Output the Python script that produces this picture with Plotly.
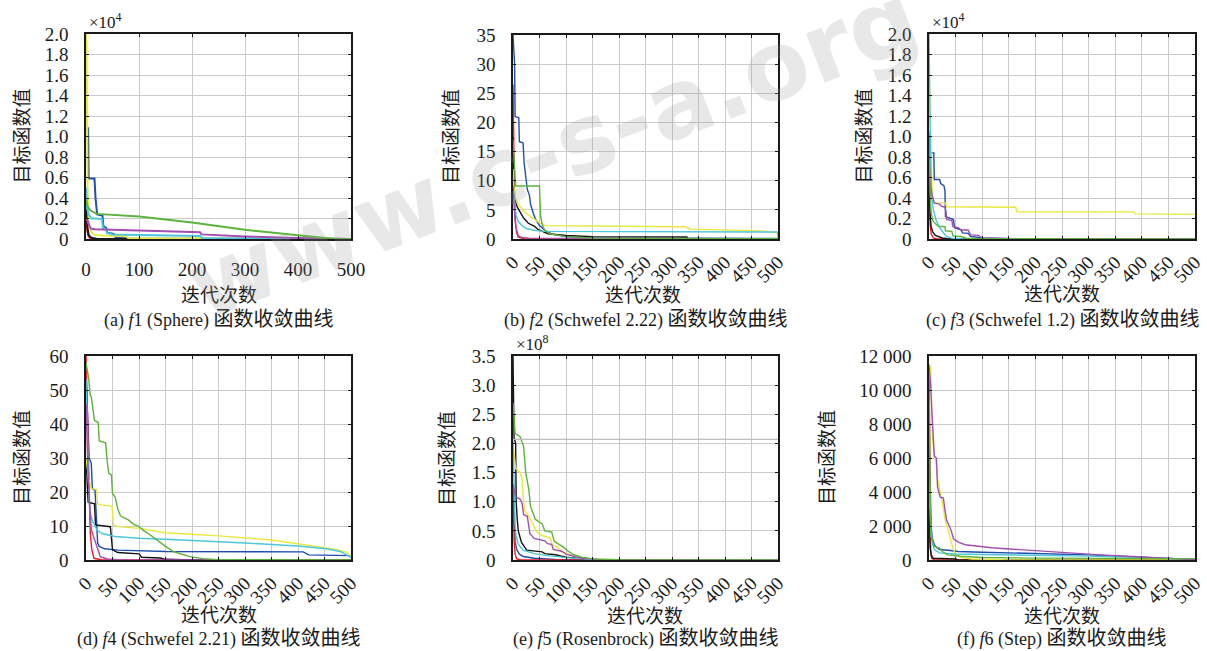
import plotly.graph_objects as go

# ---------------- data (iteration, objective value) ----------------
# (a) f1 Sphere
f1_blue = [(0, 10800), (4, 10800), (5, 5900), (16, 5900), (18, 4000), (21, 2400), (31, 2300), (33, 1200), (38, 1100), (40, 600), (52, 500), (56, 150), (80, 60), (200, 20), (500, 0)]
f1_red = [(0, 3500), (1, 2000), (2, 1000), (4, 400), (7, 100), (12, 10), (30, 0), (500, 0)]
f1_black = [(0, 4500), (1, 2500), (3, 1000), (5, 400), (8, 200), (12, 100), (20, 30), (50, 5), (500, 0)]
f1_yellow = [(0, 20000), (1, 19000), (2, 12000), (3, 5000), (5, 1500), (10, 700), (15, 400), (30, 330), (75, 280), (80, 80), (150, 40), (500, 0)]
f1_cyan = [(0, 5000), (2, 3000), (5, 2400), (10, 2000), (17, 2000), (30, 1950), (32, 1100), (37, 1000), (40, 600), (50, 450), (100, 400), (215, 300), (220, 60), (500, 0)]
f1_purple = [(0, 2000), (3, 1800), (6, 1300), (10, 1000), (17, 950), (100, 800), (215, 650), (218, 450), (300, 250), (400, 100), (450, 30), (500, 0)]
f1_green = [(0, 3800), (3, 3200), (8, 2800), (15, 2550), (20, 2450), (100, 2200), (200, 1600), (300, 900), (400, 330), (465, 20), (500, 0)]

# (b) f2 Schwefel 2.22
f2_blue = [(0, 35), (3, 30), (4, 21), (11, 20.8), (12, 16.7), (19, 16.5), (21, 13), (24, 11), (27, 8.5), (31, 7.5), (33, 6), (38, 4.5), (42, 3.5), (50, 2.3), (60, 1.5), (75, 0.8), (100, 0.4), (150, 0.2), (500, 0.1)]
f2_red = [(0, 26.5), (1, 18), (2, 10), (3, 6), (5, 2.5), (7, 1), (10, 0.3), (20, 0.05), (500, 0)]
f2_black = [(0, 17.5), (1, 12), (2, 8), (4, 6.5), (8, 5.5), (13, 4.7), (20, 3.6), (29, 2.7), (40, 2.2), (48, 1.6), (66, 0.9), (100, 0.6), (150, 0.4), (328, 0.35), (330, 0.05), (500, 0.02)]
f2_yellow = [(0, 12), (2, 8.5), (5, 7.0), (10, 6.0), (20, 4.8), (35, 3.7), (50, 2.8), (60, 2.3), (200, 2.2), (325, 2.1), (335, 1.7), (400, 1.6), (470, 1.4), (500, 1.0)]
f2_cyan = [(0, 9), (3, 6), (6, 4), (10, 3), (16, 2.4), (25, 1.8), (40, 1.5), (60, 1.3), (300, 1.25), (499, 1.2), (500, 0.1)]
f2_purple = [(0, 9), (2, 5), (4, 3), (7, 1.5), (10, 0.6), (15, 0.3), (30, 0.15), (500, 0.05)]
f2_green = [(0, 17), (2, 13), (4, 10), (5, 9.1), (50, 9.1), (52, 4), (55, 2.5), (60, 1.5), (70, 0.9), (100, 0.4), (150, 0.15), (500, 0.05)]

# (c) f3 Schwefel 1.2
f3_blue = [(0, 8400), (9, 8400), (10, 5800), (20, 5800), (22, 5400), (28, 5200), (30, 4700), (31, 2200), (35, 2100), (46, 1900), (48, 1100), (55, 1000), (60, 900), (63, 600), (74, 550), (78, 260), (86, 200), (100, 100), (150, 30), (500, 0)]
f3_red = [(0, 10000), (1, 4000), (2, 1500), (4, 500), (8, 100), (15, 0), (500, 0)]
f3_black = [(0, 8000), (2, 2500), (4, 1200), (7, 700), (12, 350), (18, 200), (25, 100), (35, 40), (50, 0), (500, 0)]
f3_yellow = [(0, 17200), (2, 12000), (4, 6000), (6, 4200), (10, 3550), (31, 3500), (33, 3150), (163, 3100), (165, 2650), (385, 2650), (388, 2450), (500, 2400)]
f3_cyan = [(0, 20000), (1, 13500), (3, 7500), (5, 4200), (8, 2900), (13, 1900), (18, 1300), (24, 800), (33, 250), (42, 80), (60, 20), (100, 0), (500, 0)]
f3_purple = [(0, 8000), (3, 5000), (6, 4300), (10, 3500), (20, 3400), (23, 3200), (30, 3100), (32, 2700), (33, 1900), (43, 1800), (45, 1200), (55, 1100), (60, 900), (74, 850), (78, 400), (93, 350), (100, 100), (150, 30), (200, 0), (500, 0)]
f3_green = [(0, 10500), (1, 7000), (2, 4500), (4, 2600), (7, 1800), (12, 1500), (17, 1250), (30, 1200), (31, 800), (43, 750), (45, 300), (60, 250), (70, 80), (100, 30), (500, 0)]

# (d) f4 Schwefel 2.21
f4_blue = [(0, 55), (2, 45), (3, 40), (6, 30), (10, 28.5), (12, 21), (17, 20.5), (20, 12), (22, 5), (25, 4), (35, 3.3), (60, 2.9), (150, 2.5), (410, 2.4), (420, 1.5), (500, 1.3)]
f4_red = [(0, 60), (2, 50), (4, 35), (6, 20), (8, 8), (11, 3), (15, 0.5), (30, 0), (500, 0)]
f4_black = [(0, 30), (2, 20), (4, 17), (16, 16.5), (18, 10.3), (46, 9.8), (50, 3), (60, 2.2), (100, 1.8), (105, 0.8), (140, 0.6), (150, 0.2), (200, 0.05), (500, 0)]
f4_yellow = [(0, 30), (5, 24), (10, 21), (20, 20.8), (22, 16.5), (30, 16.2), (49, 15.8), (52, 10.3), (60, 9.8), (100, 9.3), (150, 8.0), (250, 7.1), (350, 5.9), (420, 4.4), (470, 3.2), (490, 2.4), (500, 1.2)]
f4_cyan = [(0, 53), (2, 40), (4, 25), (6, 17), (9, 13), (14, 10.8), (21, 8.8), (30, 7.8), (55, 6.9), (100, 6.4), (150, 6.1), (200, 5.8), (300, 5.0), (400, 4.1), (450, 3.4), (480, 2.5), (500, 0.8)]
f4_purple = [(0, 46), (2, 35), (4, 25), (7, 16), (10, 9), (14, 7), (18, 5), (22, 3.5), (27, 1), (40, 0.3), (60, 0.1), (500, 0)]
f4_green = [(0, 58), (3, 55), (5, 53.5), (8, 48.5), (10, 48), (16, 41), (23, 40.5), (25, 35), (37, 34.5), (40, 29), (43, 25.5), (48, 25), (50, 19.5), (55, 18.5), (60, 15), (65, 13), (70, 12.5), (80, 11.8), (90, 10.5), (100, 9.8), (110, 8.5), (120, 7.5), (133, 5.9), (150, 4), (165, 2.5), (180, 1.8), (196, 1.0), (220, 0.4), (250, 0.1), (500, 0)]

# (e) f5 Rosenbrock
f5_blue = [(0, 1.3e8), (2, 0.6e8), (4, 0.3e8), (7, 0.18e8), (12, 0.1e8), (20, 0.06e8), (40, 0.03e8), (80, 0.01e8), (500, 0)]
f5_red = [(0, 1.3e8), (1, 0.7e8), (2, 0.35e8), (4, 0.1e8), (7, 0.02e8), (15, 0), (500, 0)]
f5_black = [(0, 3.5e8), (2, 2.1e8), (5, 2.0e8), (6, 1.0e8), (8, 0.7e8), (10, 0.5e8), (16, 0.3e8), (26, 0.17e8), (55, 0.14e8), (60, 0.11e8), (80, 0.09e8), (100, 0.05e8), (150, 0.01e8), (500, 0)]
f5_yellow = [(0, 2.0e8), (3, 1.75e8), (5, 1.57e8), (12, 1.52e8), (17, 1.4e8), (20, 1.0e8), (22, 0.85e8), (30, 0.75e8), (40, 0.55e8), (45, 0.48e8), (55, 0.42e8), (70, 0.38e8), (75, 0.25e8), (85, 0.22e8), (92, 0.14e8), (105, 0.1e8), (120, 0.05e8), (140, 0.02e8), (200, 0), (500, 0)]
f5_cyan = [(0, 2.05e8), (2, 1.2e8), (4, 0.6e8), (6, 0.4e8), (10, 0.27e8), (19, 0.17e8), (40, 0.11e8), (70, 0.07e8), (100, 0.04e8), (150, 0.01e8), (500, 0)]
f5_purple = [(0, 1.3e8), (3, 1.15e8), (5, 1.08e8), (13, 1.05e8), (17, 0.98e8), (20, 0.78e8), (27, 0.75e8), (29, 0.63e8), (32, 0.45e8), (40, 0.37e8), (60, 0.33e8), (65, 0.28e8), (73, 0.27e8), (76, 0.18e8), (92, 0.15e8), (100, 0.1e8), (115, 0.06e8), (130, 0.03e8), (160, 0.01e8), (500, 0)]
f5_green = [(0, 2.7e8), (2, 2.4e8), (4, 2.17e8), (13, 2.12e8), (16, 2.05e8), (20, 1.95e8), (24, 1.5e8), (30, 1.2e8), (33, 0.92e8), (42, 0.7e8), (55, 0.62e8), (60, 0.5e8), (73, 0.48e8), (78, 0.32e8), (95, 0.22e8), (104, 0.15e8), (115, 0.09e8), (130, 0.05e8), (150, 0.02e8), (200, 0.005e8), (500, 0)]
f5_refline = 2.07e8

# (f) f6 Step
f6_blue = [(0, 7500), (2, 4000), (4, 2000), (6, 1300), (10, 900), (14, 750), (20, 620), (40, 560), (55, 500), (100, 460), (200, 400), (300, 300), (400, 170), (450, 100), (500, 20)]
f6_red = [(0, 11500), (1, 6000), (2, 2000), (3, 600), (5, 100), (10, 0), (500, 0)]
f6_black = [(0, 3000), (1, 1500), (2, 800), (4, 300), (8, 100), (50, 60), (55, 0), (500, 0)]
f6_yellow = [(0, 11300), (3, 11400), (5, 9000), (7, 7000), (10, 6200), (13, 5800), (16, 4800), (20, 4200), (25, 3400), (30, 2400), (35, 1800), (40, 1200), (45, 700), (50, 350), (60, 150), (80, 60), (150, 10), (500, 0)]
f6_cyan = [(0, 4500), (2, 2500), (4, 1500), (7, 900), (10, 600), (20, 420), (50, 350), (100, 320), (200, 290), (300, 230), (400, 150), (500, 30)]
f6_purple = [(0, 11400), (3, 10400), (5, 9000), (7, 7500), (10, 6100), (14, 6000), (16, 4300), (21, 3700), (27, 3650), (30, 2950), (33, 2350), (38, 2000), (42, 1700), (46, 1250), (55, 1050), (68, 900), (86, 820), (118, 720), (150, 650), (200, 540), (250, 450), (322, 300), (400, 180), (450, 100), (500, 20)]
f6_green = [(0, 11000), (1, 8000), (2, 4000), (3, 1400), (6, 1200), (10, 800), (20, 700), (25, 500), (35, 300), (60, 220), (100, 150), (200, 110), (500, 80)]

# tick labels
iter_ticks_a = [0, 100, 200, 300, 400, 500]
iter_ticks = [0, 50, 100, 150, 200, 250, 300, 350, 400, 450, 500]
e4_vals = [0, 2000, 4000, 6000, 8000, 10000, 12000, 14000, 16000, 18000, 20000]
e4_text = ["0", "0.2", "0.4", "0.6", "0.8", "1.0", "1.2", "1.4", "1.6", "1.8", "2.0"]
e8_vals = [0, 0.5e8, 1.0e8, 1.5e8, 2.0e8, 2.5e8, 3.0e8, 3.5e8]
e8_text = ["0", "0.5", "1.0", "1.5", "2.0", "2.5", "3.0", "3.5"]
f6_vals = [0, 2000, 4000, 6000, 8000, 10000, 12000]
f6_text = ["0", "2 000", "4 000", "6 000", "8 000", "10 000", "12 000"]
cap_prefix = ["(a) <i>f</i>1 (Sphere)", "(b) <i>f</i>2 (Schwefel 2.22)", "(c) <i>f</i>3 (Schwefel 1.2)",
              "(d) <i>f</i>4 (Schwefel 2.21)", "(e) <i>f</i>5 (Rosenbrock)", "(f) <i>f</i>6 (Step)"]
cap_suffix = "函数收敛曲线"
x_title = "迭代次数"
y_title = "目标函数值"
watermark = "www.c-s-a.org"

# ---------------- styling ----------------
W, H = 1207, 651
SERIF = "Liberation Serif, 'Times New Roman', 'Noto Sans CJK SC', serif"
INK = "#1a1a1a"
COLORS = {"blue": "#1f4db0", "red": "#ee1c25", "black": "#141414", "yellow": "#e8e83c",
          "cyan": "#4cc6da", "purple": "#a34fb0", "green": "#5db43c"}
ORDER = ["blue", "red", "black", "yellow", "cyan", "purple", "green"]

panels = [
    dict(data=dict(blue=f1_blue, red=f1_red, black=f1_black, yellow=f1_yellow, cyan=f1_cyan, purple=f1_purple, green=f1_green),
         box=(86, 351, 34, 239), yr=[0, 20000], yvals=e4_vals, ytext=e4_text, xt=iter_ticks_a, ang=0, lw=2.0,
         exp="×10<sup>4</sup>", ytx=22, xtx=219, xty=295, capy=320),
    dict(data=dict(blue=f2_blue, red=f2_red, black=f2_black, yellow=f2_yellow, cyan=f2_cyan, purple=f2_purple, green=f2_green),
         box=(513, 778, 35, 239), yr=[0, 35], yvals=list(range(0, 36, 5)), ytext=[str(v) for v in range(0, 36, 5)],
         xt=iter_ticks, ang=-45, lw=1.4, exp=None, ytx=452, xtx=643, xty=295, capy=319),
    dict(data=dict(blue=f3_blue, red=f3_red, black=f3_black, yellow=f3_yellow, cyan=f3_cyan, purple=f3_purple, green=f3_green),
         box=(929, 1195, 34, 239), yr=[0, 20000], yvals=e4_vals, ytext=e4_text, xt=iter_ticks, ang=-45, lw=1.4,
         exp="×10<sup>4</sup>", ytx=864, xtx=1062, xty=294, capy=319),
    dict(data=dict(blue=f4_blue, red=f4_red, black=f4_black, yellow=f4_yellow, cyan=f4_cyan, purple=f4_purple, green=f4_green),
         box=(86, 351, 356, 560), yr=[0, 60], yvals=list(range(0, 61, 10)), ytext=[str(v) for v in range(0, 61, 10)],
         xt=iter_ticks, ang=-45, lw=1.4, exp=None, ytx=22, xtx=219, xty=615, capy=638),
    dict(data=dict(blue=f5_blue, red=f5_red, black=f5_black, yellow=f5_yellow, cyan=f5_cyan, purple=f5_purple, green=f5_green),
         box=(513, 778, 356, 560), yr=[0, 3.5e8], yvals=e8_vals, ytext=e8_text, xt=iter_ticks, ang=-45, lw=1.4,
         exp="×10<sup>8</sup>", ytx=447, xtx=645, xty=616, capy=638),
    dict(data=dict(blue=f6_blue, red=f6_red, black=f6_black, yellow=f6_yellow, cyan=f6_cyan, purple=f6_purple, green=f6_green),
         box=(929, 1195, 356, 560), yr=[0, 12000], yvals=f6_vals, ytext=f6_text, xt=iter_ticks, ang=-45, lw=1.4,
         exp=None, ytx=827, xtx=1062, xty=616, capy=638),
]

fig = go.Figure()
annotations = []
shapes = []

for i, p in enumerate(panels):
    k = "" if i == 0 else str(i + 1)
    xa, ya = "x" + k, "y" + k
    l, r, t, b = p["box"]
    for name in ORDER:
        pts = p["data"][name]
        fig.add_trace(go.Scatter(x=[q[0] for q in pts], y=[q[1] for q in pts], mode="lines",
                                 line=dict(color=COLORS[name], width=p["lw"]), name=name,
                                 showlegend=False, xaxis=xa, yaxis=ya, hoverinfo="skip"))
    axis_common = dict(showline=True, mirror="ticks", linecolor=INK, linewidth=1.6,
                       ticks="inside", ticklen=3, tickcolor=INK, showgrid=True, automargin=False,
                       gridcolor="#cbcbcb", gridwidth=1.2, zeroline=False,
                       tickfont=dict(family=SERIF, size=19, color=INK))
    fig.layout["xaxis" + k] = dict(axis_common, domain=[l / W, r / W], range=[0, 500], tickvals=p["xt"],
                                   tickangle=p["ang"], anchor=ya,
                                   ticklabelstandoff=(12 if p["ang"] == 0 else 3))
    fig.layout["yaxis" + k] = dict(axis_common, domain=[1 - b / H, 1 - t / H], range=p["yr"],
                                   tickvals=p["yvals"], ticktext=p["ytext"], anchor=xa,
                                   ticklabelstandoff=12)
    # axis titles & caption
    annotations.append(dict(text=y_title, x=p["ytx"] / W, y=1 - ((t + b) / 2) / H, xref="paper", yref="paper",
                            textangle=-90, showarrow=False, xanchor="center", yanchor="middle",
                            font=dict(family=SERIF, size=19, color=INK)))
    annotations.append(dict(text=x_title, x=p["xtx"] / W, y=1 - p["xty"] / H, xref="paper", yref="paper",
                            showarrow=False, xanchor="center", yanchor="middle",
                            font=dict(family=SERIF, size=19, color=INK)))
    cap = cap_prefix[i] + ' <span style="font-size:20px">' + cap_suffix + "</span>"
    annotations.append(dict(text=cap, x=((l + r) / 2) / W, y=1 - p["capy"] / H, xref="paper", yref="paper",
                            showarrow=False, xanchor="center", yanchor="middle",
                            font=dict(family=SERIF, size=18, color=INK)))
    if p["exp"]:
        annotations.append(dict(text=p["exp"], x=(l + 1) / W, y=1 - (t - 13) / H, xref="paper", yref="paper",
                                showarrow=False, xanchor="left", yanchor="middle",
                                font=dict(family=SERIF, size=17, color=INK)))

# faint reference line in panel (e)
shapes.append(dict(type="line", xref="x5 domain", yref="y5", x0=0, x1=1, y0=f5_refline, y1=f5_refline,
                   line=dict(color="#bdbdbd", width=1.2)))

# watermark
annotations.append(dict(text="<b>" + watermark + "</b>", x=552 / W, y=1 - 152 / H, xref="paper", yref="paper",
                        showarrow=False, textangle=-21, xanchor="center", yanchor="middle",
                        font=dict(family="DejaVu Sans", size=96, color="rgba(150,150,150,0.22)")))

fig.update_layout(width=W, height=H, margin=dict(l=0, r=0, t=0, b=0), paper_bgcolor="white",
                  plot_bgcolor="white", annotations=annotations, shapes=shapes, showlegend=False)

fig.write_html("out.html", config={"displayModeBar": False},
               post_script="document.body.style.margin='0';document.body.style.overflow='hidden';")
